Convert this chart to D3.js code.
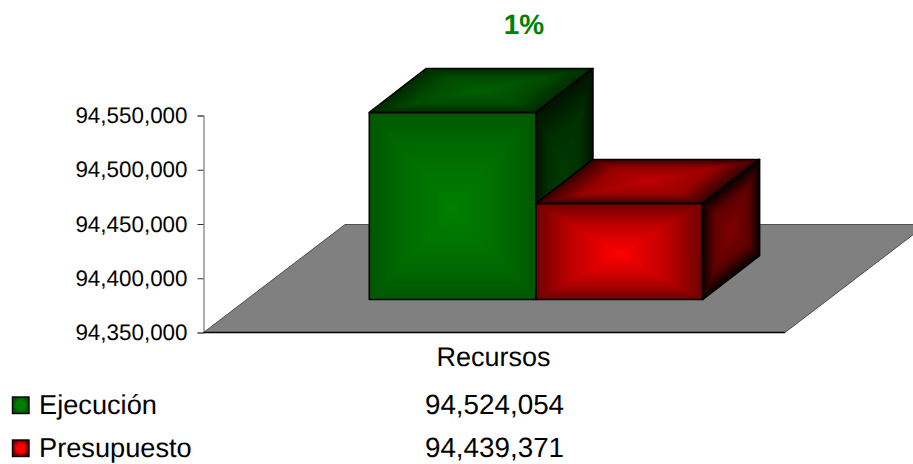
<!DOCTYPE html>
<html>
<head>
<meta charset="utf-8">
<script src="https://cdn.jsdelivr.net/npm/d3@7"></script>
<style>
html,body{margin:0;padding:0;background:#fff;overflow:hidden}
text{font-family:"Liberation Sans",Arial,sans-serif;fill:#000;text-rendering:geometricPrecision}
</style>
</head>
<body>
<svg id="c" width="913" height="464"></svg>
<script>
const categoryName = "Recursos";
const seriesNames = ["Ejecución", "Presupuesto"];
const seriesValues = [94524054, 94439371];
const seriesKeys = ["green", "red"];
const tickValues = [94350000, 94400000, 94450000, 94500000, 94550000];
const titleText = "1%";

const palette = {
  green: {front:["#008000","#006c00","#005800"], top:["#006000","#004c00","#002c00"], side:["#003c00","#003000","#001400"]},
  red:   {front:["#ff0000","#bc0000","#700000"], top:["#c00000","#980000","#380000"], side:["#800000","#600000","#0c0000"]}
};

const svg = d3.select("#c");
const defs = svg.append("defs");

const y = d3.scaleLinear().domain([94350000, 94550000]).range([332.5, 115.5]);
const barY = d3.scaleLinear().domain([94350000, 94550000]).range([299.5, 84.6]);
const x = d3.scaleBand().domain(seriesNames).range([369.3, 702.6]).paddingInner(0).paddingOuter(0);
const depthX = 57, depthY = -44;
const floor = {x0:203.5, x1:785, y0:332.5, dx:141.5, dy:-108};

svg.append("text").attr("x",524).attr("y",34).attr("text-anchor","middle")
  .attr("font-size",28).attr("font-weight","bold").style("fill","#008000").text(titleText);

svg.append("path")
  .attr("d", d3.line()([[floor.x0,floor.y0],[floor.x0+floor.dx,floor.y0+floor.dy],[floor.x1+floor.dx,floor.y0+floor.dy],[floor.x1,floor.y0]])+"Z")
  .attr("fill","#808080").attr("stroke","#333").attr("stroke-width",0.8);

const axis = d3.axisLeft(y).tickValues(tickValues).tickFormat(d3.format(",")).tickSizeOuter(0).tickSize(6).tickPadding(10);
const ax = svg.append("g").attr("transform","translate(203.5,0)").call(axis);
ax.select(".domain").attr("stroke","#777").attr("stroke-width",1.2);
ax.selectAll(".tick line").attr("stroke","#333");
ax.selectAll(".tick text").attr("font-size",22.4).attr("font-family","Liberation Sans");
svg.append("line").attr("x1",floor.x0).attr("x2",floor.x1).attr("y1",floor.y0).attr("y2",floor.y0).attr("stroke","#000").attr("stroke-width",1.4);

// a face: nested quads shrinking towards the centre give the rectangular gradient
const shade = d3.scaleLinear().domain([0,0.6,1]);
function face(g, o, u, v, cols, cx=0.5, cy=0.5){
  const t = g.append("g").attr("transform",`matrix(${u[0]},${u[1]},${v[0]},${v[1]},${o[0]},${o[1]})`);
  const c = shade.copy().range(cols).interpolate(d3.interpolateRgb);
  t.selectAll("path").data(d3.range(90,0,-1).map(k=>k/90)).join("path")
    .attr("d",k=>d3.line()([[cx-cx*k,cy-cy*k],[cx+(1-cx)*k,cy-cy*k],[cx+(1-cx)*k,cy+(1-cy)*k],[cx-cx*k,cy+(1-cy)*k]])+"Z")
    .attr("fill",k=>c(k));
}

seriesNames.forEach((name,i)=>{
  const pal = palette[seriesKeys[i]];
  const x0 = x(name), x1 = x0 + x.bandwidth();
  const yb = barY.range()[0], yt = barY(seriesValues[i]);
  const g = svg.append("g");
  face(g,[x0,yt],[x1-x0,0],[0,yb-yt],pal.front,0.5,0.52);
  face(g,[x0+depthX,yt+depthY],[x1-x0,0],[-depthX,-depthY],pal.top);
  face(g,[x1,yt],[depthX,depthY],[0,yb-yt],pal.side);
  const line = d3.line();
  [
    [[x0,yt],[x1,yt],[x1,yb],[x0,yb]],
    [[x0,yt],[x0+depthX,yt+depthY],[x1+depthX,yt+depthY],[x1,yt]],
    [[x1,yt],[x1+depthX,yt+depthY],[x1+depthX,yb+depthY],[x1,yb]]
  ].forEach(p=>g.append("path").attr("d",line(p)+"Z").attr("fill","none")
     .attr("stroke","#000").attr("stroke-width",1.6).attr("stroke-linejoin","round"));
});

const cx = 494.5;
svg.append("text").attr("x",cx-1).attr("y",366).attr("text-anchor","middle").attr("font-size",27).text(categoryName);
const rows = [414, 457];
seriesNames.forEach((name,i)=>{
  const pal = palette[seriesKeys[i]];
  const id = "lg"+i;
  const rg = defs.append("radialGradient").attr("id",id);
  rg.append("stop").attr("offset",0).attr("stop-color",pal.front[0]);
  rg.append("stop").attr("offset",0.5).attr("stop-color",pal.front[0]);
  rg.append("stop").attr("offset",1).attr("stop-color",pal.front[2]);
  svg.append("rect").attr("x",12.5).attr("y",rows[i]-17).attr("width",16.5).attr("height",16.5)
    .attr("fill",`url(#${id})`).attr("stroke","#000").attr("stroke-width",1.4);
  svg.append("text").attr("x",39).attr("y",rows[i]).attr("font-size",27.2).text(name);
  svg.append("text").attr("x",cx).attr("y",rows[i]).attr("text-anchor","middle").attr("font-size",27.8)
    .text(d3.format(",")(seriesValues[i]));
});
</script>
</body>
</html>
